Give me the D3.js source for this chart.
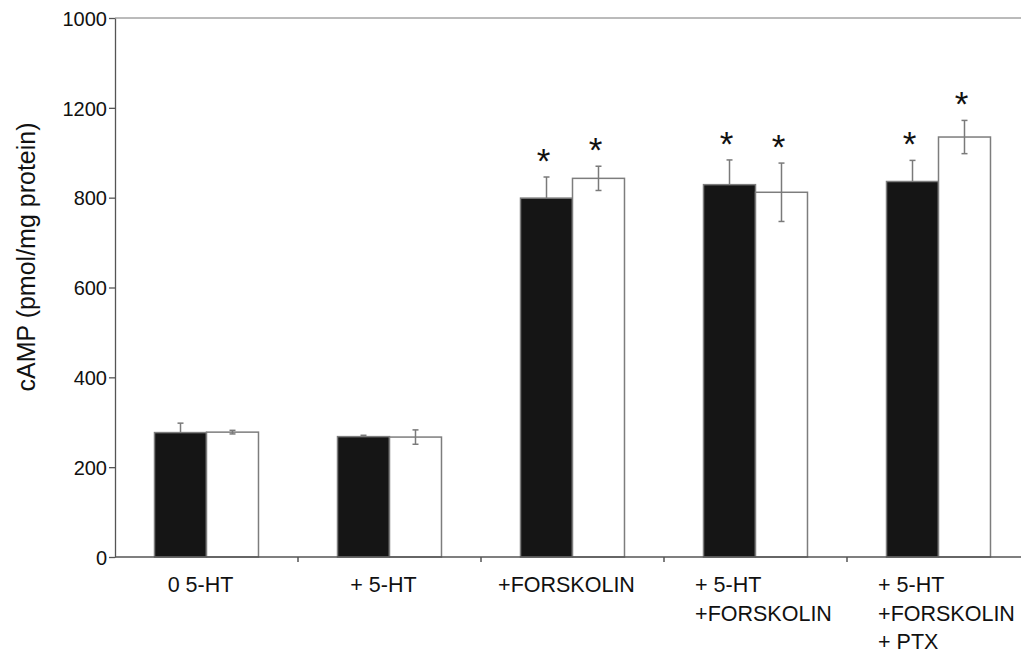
<!DOCTYPE html>
<html lang="en">
  <head>
    <meta charset="utf-8" />
    <title>cAMP levels</title>
    <script src="https://d3js.org/d3.v7.min.js"></script>
    <style>
      body { margin: 0; background: #fff; }
      svg text { font-family: "Liberation Sans", Arial, sans-serif; fill: #111; }
    </style>
  </head>
  <body>
    <div id="chart"></div>
    <script>
      // values
      var categories = [
        ["0 5-HT"],
        ["+ 5-HT"],
        ["+FORSKOLIN"],
        ["+ 5-HT", "+FORSKOLIN"],
        ["+ 5-HT", "+FORSKOLIN", "+ PTX"]
      ];
      var series = ["black", "white"];
      var blackValues = [277, 268, 799, 829, 836];
      var blackErrors = [21, 3, 47, 55, 47];
      var whiteValues = [278, 267, 843, 812, 935];
      var whiteErrors = [4, 16, 27, 65, 37];
      var blackStars = [false, false, true, true, true];
      var whiteStars = [false, false, true, true, true];
      var tickValues = [0, 200, 400, 600, 800, 1000, 1200];
      // the original figure prints its top two labels in this order
      var tickLabels = ["0", "200", "400", "600", "800", "1200", "1000"];
      var yLabel = "cAMP (pmol/mg protein)";

      var width = 1021;
      var height = 655;
      var margin = { top: 18, left: 115, bottom: 98 };
      var plotRight = margin.left + 183 * categories.length;

      var svg = d3
        .select("#chart")
        .append("svg")
        .attr("width", width)
        .attr("height", height);

      var x = d3
        .scaleBand()
        .domain(d3.range(categories.length))
        .range([margin.left, plotRight])
        .padding(0);

      var xSub = d3
        .scaleBand()
        .domain(series)
        .range([0, x.bandwidth()])
        .paddingInner(0)
        .paddingOuter(0.76);

      var y = d3
        .scaleLinear()
        .domain([0, 1200])
        .range([height - margin.bottom, margin.top]);

      var bars = [];
      categories.forEach(function (c, i) {
        bars.push({ cat: i, s: "black", v: blackValues[i], e: blackErrors[i], star: blackStars[i] });
        bars.push({ cat: i, s: "white", v: whiteValues[i], e: whiteErrors[i], star: whiteStars[i] });
      });

      // top frame line
      svg
        .append("line")
        .attr("x1", margin.left)
        .attr("x2", width)
        .attr("y1", y(1200))
        .attr("y2", y(1200))
        .attr("stroke", "#777")
        .attr("stroke-width", 1);

      svg
        .selectAll("rect.bar")
        .data(bars)
        .enter()
        .append("rect")
        .attr("class", "bar")
        .attr("x", function (d) { return x(d.cat) + xSub(d.s); })
        .attr("width", xSub.bandwidth())
        .attr("y", function (d) { return y(d.v); })
        .attr("height", function (d) { return y(0) - y(d.v); })
        .attr("fill", function (d) { return d.s === "black" ? "#151515" : "#fff"; })
        .attr("stroke", "#7d7d7d")
        .attr("stroke-width", 1.5);

      var err = svg
        .selectAll("g.err")
        .data(bars)
        .enter()
        .append("g")
        .attr("class", "err")
        .attr("stroke", "#7a7a7a")
        .attr("stroke-width", 1.5)
        .attr("transform", function (d) {
          return "translate(" + (x(d.cat) + xSub(d.s) + xSub.bandwidth() / 2) + ",0)";
        });

      err
        .append("line")
        .attr("y1", function (d) { return y(d.v + d.e); })
        .attr("y2", function (d) { return d.s === "black" ? y(d.v) : y(d.v - d.e); });

      err
        .append("line")
        .attr("x1", -3)
        .attr("x2", 3)
        .attr("y1", function (d) { return y(d.v + d.e); })
        .attr("y2", function (d) { return y(d.v + d.e); });

      err
        .filter(function (d) { return d.s === "white"; })
        .append("line")
        .attr("x1", -3)
        .attr("x2", 3)
        .attr("y1", function (d) { return y(d.v - d.e); })
        .attr("y2", function (d) { return y(d.v - d.e); });

      svg
        .selectAll("text.star")
        .data(bars.filter(function (d) { return d.star; }))
        .enter()
        .append("text")
        .attr("class", "star")
        .attr("x", function (d) { return x(d.cat) + xSub(d.s) + xSub.bandwidth() / 2 - 3; })
        .attr("y", function (d) { return y(d.v + d.e) - 4; })
        .attr("text-anchor", "middle")
        .style("font-size", "35px")
        .text("*");

      // y axis
      var yAxis = d3
        .axisLeft(y)
        .tickValues(tickValues)
        .tickSize(6)
        .tickSizeOuter(0)
        .tickPadding(2)
        .tickFormat(function (d, i) { return tickLabels[i]; });

      var gy = svg
        .append("g")
        .attr("transform", "translate(" + margin.left + ",0)")
        .call(yAxis);
      gy.select(".domain").attr("stroke", "#555").attr("stroke-width", 1.3);
      gy.selectAll(".tick line").attr("stroke", "#555").attr("stroke-width", 1.3);
      gy.selectAll(".tick text")
        .style("font-size", "20px")
        .style("font-family", "'Liberation Sans', Arial, sans-serif")
        .attr("fill", "#111")
        .attr("dy", "0.36em");

      // x axis baseline with ticks at the category boundaries
      svg
        .append("line")
        .attr("x1", margin.left)
        .attr("x2", width)
        .attr("y1", y(0))
        .attr("y2", y(0))
        .attr("stroke", "#555")
        .attr("stroke-width", 1.5);

      svg
        .selectAll("line.xtick")
        .data(d3.range(1, categories.length))
        .enter()
        .append("line")
        .attr("class", "xtick")
        .attr("x1", function (d) { return x(d); })
        .attr("x2", function (d) { return x(d); })
        .attr("y1", y(0))
        .attr("y2", y(0) + 5)
        .attr("stroke", "#555")
        .attr("stroke-width", 1.5);

      // category labels, left aligned lines in a block near the band centre
      var labels = svg
        .selectAll("g.cat")
        .data(categories)
        .enter()
        .append("g")
        .attr("class", "cat");

      labels.each(function (lines, i) {
        var g = d3.select(this);
        var t = g
          .selectAll("text")
          .data(lines)
          .enter()
          .append("text")
          .attr("y", function (d, j) { return y(0) + 35 + j * 28.5; })
          .style("font-size", "21.5px")
          .text(function (d) { return d; });
        var w = 0;
        t.each(function () { w = Math.max(w, this.getComputedTextLength()); });
        var shift = lines.length > 1 ? 8 : -6;
        t.attr("x", x(i) + x.bandwidth() / 2 - w / 2 + shift);
      });

      svg
        .append("text")
        .attr("transform", "translate(35," + 257 + ") rotate(-90)")
        .attr("text-anchor", "middle")
        .style("font-size", "25px")
        .text(yLabel);
    </script>
  </body>
</html>
